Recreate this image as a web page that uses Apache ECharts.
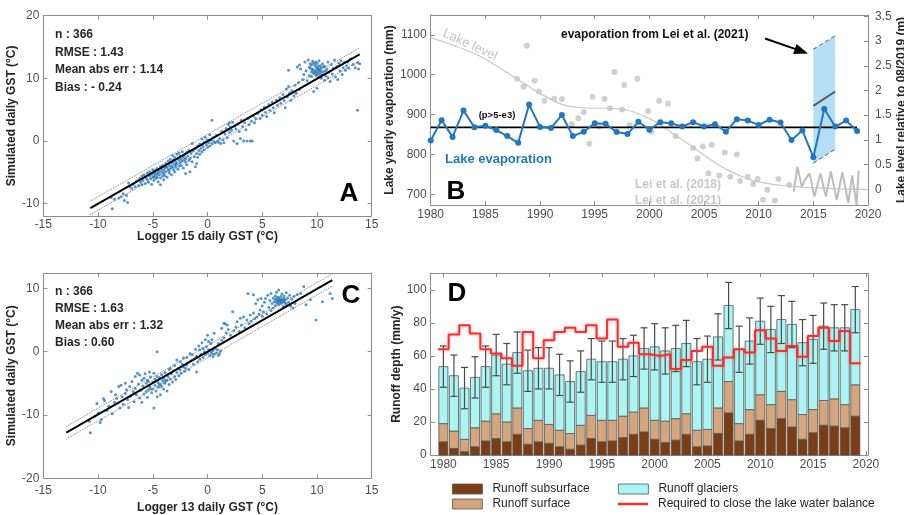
<!DOCTYPE html>
<html><head><meta charset="utf-8">
<script src="https://cdn.jsdelivr.net/npm/echarts@6/dist/echarts.min.js"></script>
<style>html,body{margin:0;padding:0;background:#fff}#c{width:904px;height:515px}</style>
</head><body><div id="c"></div>
<script>
// ================= DATA =================
// Panel A : Logger 15 vs simulated daily GST (°C)
const scatterA = [
[-8.7,-10.8],[-8.8,-9.0],[-8.5,-9.3],[-8.1,-9.1],[-7.9,-8.9],[-7.6,-9.5],[-7.4,-8.7],[-7.7,-8.4],[-7.3,-9.8],[-7.2,-6.7],[-7.1,-7.3],[-6.9,-7.6],[-6.8,-6.9],[-6.6,-7.3],[-6.5,-6.4],[-6.3,-7.1],[-6.2,-6.0],[-6.1,-6.6],[-6.0,-7.0],[-6.0,-5.6],
[-5.9,-6.3],[-5.8,-5.4],[-5.7,-6.8],[-5.6,-5.9],[-5.5,-6.2],[-5.5,-5.1],[-5.4,-6.6],[-5.3,-5.6],[-5.3,-4.9],[-5.2,-6.0],[-5.1,-5.3],[-5.1,-6.9],[-5.0,-5.8],[-5.0,-4.6],[-4.9,-5.1],
[-4.9,-6.3],[-4.8,-5.5],[-4.8,-4.7],[-4.7,-6.0],[-4.7,-5.2],[-4.6,-4.4],[-4.6,-5.8],[-4.5,-5.0],[-4.5,-6.5],[-4.4,-4.8],[-4.4,-5.4],[-4.3,-4.1],[-4.3,-5.9],[-4.3,-7.0],[-4.2,-5.0],[-4.2,-4.5],[-4.1,-5.6],[-4.1,-3.9],[-4.0,-4.7],[-4.0,-6.2],[-4.0,-5.2],
[-3.9,-4.3],[-3.9,-5.5],[-3.8,-3.6],[-3.8,-4.9],[-3.7,-4.2],[-3.7,-5.8],[-3.6,-3.2],[-3.6,-4.6],[-3.5,-5.1],[-3.5,-3.9],[-3.4,-4.4],[-3.4,-2.9],[-3.3,-4.0],[-3.3,-5.4],[-3.2,-3.5],[-3.2,-2.3],[-3.1,-4.6],[-3.1,-3.0],[-3.0,-3.8],[-3.0,-2.6],[-3.0,-4.9],
[-2.9,-3.3],[-2.9,-4.2],[-2.8,-2.1],[-2.8,-3.6],[-2.7,-2.8],[-2.7,-4.5],[-2.6,-3.1],[-2.6,-1.9],[-2.5,-3.5],[-2.5,-2.4],[-2.4,-3.9],[-2.4,-2.9],[-2.3,-3.2],[-2.3,-1.7],[-2.2,-2.6],[-2.2,-4.3],[-2.1,-3.0],[-2.1,-2.2],[-2.0,-3.4],[-2.0,-5.2],[-2.0,-2.7],
[-3.8,-4.1],[-3.5,-4.7],[-3.2,-4.2],[-2.9,-3.7],[-4.6,-5.3],[-4.9,-5.7],[-3.4,-3.4],[-2.6,-4.0],
[-1.9,-1.8],[-1.9,-3.8],[-1.8,-2.4],[-1.7,-3.1],[-1.7,-1.5],[-1.6,-4.9],[-1.6,-2.8],[-1.5,-2.0],[-1.4,-3.3],[-1.4,-0.4],[-1.3,-1.6],[-1.2,-2.5],[-1.1,-4.1],[-1.1,-1.2],[-1.0,-3.6],[-1.0,-2.0],
[-0.9,-0.8],[-0.9,-2.6],[-0.8,-1.5],[-0.7,-0.5],[-0.7,-2.1],[-0.6,-1.2],[-0.5,0.3],[-0.5,-1.7],[-0.4,-0.9],[-0.3,-0.2],[-0.3,-1.4],[-0.2,0.6],[-0.1,-0.6],[0.0,-1.0],[0.0,0.2],[0.1,-0.3],[0.2,1.0],[0.2,-0.8],[0.3,0.1],[0.4,3.3],[0.4,-0.4],[0.5,0.5],[0.6,-0.1],[0.7,-0.3],[0.8,0.9],[0.9,0.0],[1.0,-0.2],
[1.1,0.4],[1.2,-0.4],[1.3,1.5],[1.4,0.2],[1.5,-0.3],[1.6,1.1],[1.7,2.0],[1.8,0.5],[1.9,2.6],[2.0,1.4],[2.0,2.9],[2.1,2.2],[2.2,1.7],[2.3,3.0],[2.4,0.0],[2.5,2.4],[2.6,1.9],[2.7,-0.4],[2.8,2.7],[2.9,1.5],[3.0,0.4],[3.1,3.3],[3.2,2.3],[3.3,0.0],[3.4,2.9],[3.5,1.8],[3.6,0.0],[3.7,3.6],[3.8,2.6],[3.9,0.0],[4.0,3.2],[4.1,0.0],[4.2,4.0],[4.3,2.9],[4.4,3.6],
[4.6,4.4],[4.8,3.6],[4.9,5.0],[5.0,4.1],[5.2,5.4],[5.3,4.6],[5.4,3.9],[5.6,5.8],[5.7,4.9],[5.9,6.2],[6.0,5.3],[6.1,4.5],[6.3,6.5],[6.4,5.7],[6.6,6.9],[6.7,6.0],[6.9,7.4],[7.0,6.4],[7.1,5.3],[7.2,8.3],[7.3,7.0],[7.4,8.7],[7.5,7.6],[7.6,6.5],[7.7,8.0],[7.9,7.2],[8.0,8.9],[8.1,7.6],[8.3,9.3],[8.4,8.2],
[7.4,11.3],[8.2,11.8],[8.4,12.1],[8.5,11.5],[8.7,9.8],[8.8,10.6],[8.9,12.6],[9.0,11.2],[9.1,9.6],[9.2,12.9],[9.3,10.4],[9.3,11.8],[9.4,12.3],[9.5,11.0],[9.5,10.3],[9.6,12.7],[9.6,11.5],[9.7,10.8],[9.7,7.9],[9.8,12.1],[9.8,11.2],[9.9,10.5],[9.9,11.8],[10.0,12.4],[10.0,11.0],[10.0,8.4],[10.1,10.2],[10.1,11.6],[10.2,12.8],[10.2,10.8],[10.3,11.3],[10.3,12.0],[10.4,10.0],[10.4,11.7],[10.5,10.6],[10.5,12.3],[10.6,11.1],[10.7,9.7],[10.7,11.9],[10.8,10.4],[10.9,11.5],[11.0,12.6],[11.0,10.1],[11.1,11.0],[11.2,9.5],[11.3,12.2],[11.4,10.7],[11.5,11.6],[11.6,12.9],[11.7,10.2],[11.8,11.9],[11.9,9.8],[12.0,12.4],[12.1,11.2],[12.2,12.8],[12.3,10.6],[12.4,11.7],[12.5,12.5],[12.6,11.3],[12.7,12.0],[12.8,12.6],[12.9,11.6],[13.1,13.1],[13.3,12.2],[13.5,11.7],[13.7,12.5],[13.8,11.5],[13.7,4.9],[13.9,12.3],
[9.4,11.6],[9.6,11.3],[9.8,10.9],[10.0,11.4],[10.2,11.5],[10.4,11.0],[10.1,12.0],[9.9,12.6],[10.3,10.5],[10.6,11.9],[9.5,12.1],[10.8,11.2],[9.7,12.4],[10.2,11.2],[10.0,10.7]
];
const fitA   = [[-10.7,-10.7],[13.9,13.8]];
const upperA = [[-10.7,-9.6],[13.9,14.85]];
const lowerA = [[-10.7,-11.75],[13.9,12.75]];
const statsA = ['n : 366','RMSE : 1.43','Mean abs err : 1.14','Bias : - 0.24'];

// Panel C : Logger 13 vs simulated daily GST (°C)
const scatterC = [
[-10.7,-12.8],[-10.8,-11.0],[-10.3,-10.2],[-10.0,-9.7],[-9.8,-11.2],[-9.7,-10.7],[-10.1,-8.2],[-9.5,-7.4],[-9.4,-7.7],[-9.2,-9.3],[-9.0,-8.6],[-8.8,-6.3],[-8.7,-9.8],[-8.5,-8.0],[-8.4,-6.8],[-8.3,-7.4],[-8.1,-5.5],[-8.0,-8.9],
[-7.9,-5.3],[-7.8,-7.1],[-7.7,-8.3],[-7.5,-5.0],[-7.5,-6.6],[-7.4,-6.0],[-7.3,-7.6],[-7.2,-8.8],[-7.1,-5.5],[-7.0,-7.0],[-6.9,-4.7],[-6.8,-6.3],[-6.7,-7.9],[-6.6,-3.9],[-6.6,-5.8],[-6.5,-6.8],[-6.4,-3.4],[-6.3,-5.1],[-6.2,-3.7],[-6.2,-7.3],[-6.1,-6.1],[-6.0,-4.5],[-6.0,-8.0],
[-5.9,-5.4],[-5.8,-4.2],[-5.8,-6.7],[-5.7,-3.5],[-5.6,-5.0],[-5.5,-4.5],[-5.5,-7.2],[-5.4,-6.0],[-5.3,-3.2],[-5.3,-5.5],[-5.2,-4.0],[-5.1,-6.5],[-5.0,-4.8],[-5.0,-5.9],[-4.9,-3.4],[-4.9,-8.9],[-4.8,-4.3],[-4.8,-5.3],[-4.7,-6.2],[-4.6,-7.1],[-4.6,-3.9],[-4.6,0.0],[-4.5,-4.9],[-4.5,-5.6],[-4.4,-4.1],[-4.3,-6.8],[-4.3,-5.1],[-4.2,-5.5],[-4.2,-3.6],[-4.1,-4.6],[-4.0,-5.9],[-4.0,-4.2],
[-5.6,-6.3],[-5.2,-5.8],[-4.7,-4.6],[-4.4,-5.3],[-3.9,-4.8],[-5.4,-4.7],
[-3.9,-5.0],[-3.9,-3.3],[-3.8,-4.5],[-3.7,-4.5],[-3.7,-6.2],[-3.6,-3.9],[-3.5,-2.8],[-3.5,-5.2],[-3.4,-2.6],[-3.4,-4.3],[-3.3,-3.5],[-3.2,-4.8],[-3.1,-3.0],[-3.0,-3.9],[-3.0,-2.2],[-2.9,-4.4],[-2.8,-1.3],[-2.8,-3.3],[-2.7,-2.7],[-2.6,-3.8],[-2.5,-1.6],[-2.5,-2.9],[-2.4,-3.4],[-2.3,-2.0],[-2.2,-2.4],[-2.2,-1.0],[-2.1,-3.1],[-2.0,-2.6],
[-1.9,-2.1],[-1.9,-0.9],[-1.8,-1.7],[-1.7,-2.8],[-1.6,-0.3],[-1.5,-1.4],[-1.4,-0.5],[-1.3,-2.0],[-1.2,-1.1],[-1.1,0.4],[-1.0,-3.2],[-1.0,-0.7],[-0.9,-1.6],[-0.8,0.9],[-0.7,0.3],[-0.7,-1.2],[-0.6,-0.4],[-0.5,1.4],[-0.4,0.5],[-0.4,-0.9],[-0.3,0.0],[-0.2,1.9],[-0.2,-0.5],[-0.1,0.8],[0.0,-0.2],[0.0,2.6],
[0.1,0.3],[0.1,1.6],[0.2,-0.6],[0.3,0.0],[0.3,1.3],[0.4,-0.3],[0.4,1.9],[0.5,0.2],[0.5,-0.8],[0.6,2.9],[0.6,-0.4],[0.7,0.5],[0.8,-0.2],[0.9,0.3],[1.0,-0.6],[1.0,1.3],[1.1,-0.3],[1.2,0.1],[1.3,1.8],[1.3,3.7],[1.5,4.5],[1.5,2.2],[1.6,4.4],[1.7,3.0],[1.8,4.2],[1.9,3.5],
[2.1,2.6],[2.3,6.3],[2.4,3.3],[2.6,3.9],[2.7,4.75],[2.9,3.2],[3.0,5.3],[3.1,4.2],[3.3,5.5],[3.4,3.8],[3.6,5.0],[3.7,9.2],[3.8,4.4],[3.9,5.8],[4.0,4.8],[4.2,6.1],[4.2,9.0],[4.3,5.2],[4.4,7.6],[4.5,5.5],[4.6,8.2],[4.7,5.9],[4.8,6.6],[4.9,8.4],[5.0,5.6],[5.0,7.2],
[5.1,6.3],[5.2,7.8],[5.3,8.4],[5.4,6.0],[5.5,8.9],[5.6,7.0],[5.7,8.1],[5.8,6.5],[5.8,9.2],[5.9,7.6],[6.0,8.5],[6.0,6.9],[6.1,7.9],[6.2,8.8],[6.2,7.3],[6.3,8.2],[6.3,9.4],[6.4,7.7],[6.4,8.6],[6.5,9.75],[6.5,8.0],[6.5,7.4],[6.6,8.3],[6.6,7.9],[6.7,8.7],[6.7,7.6],[6.8,8.1],[6.8,9.1],[6.9,7.2],[6.9,8.4],[7.0,7.9],[7.0,8.8],[7.1,8.2],[7.2,7.5],[7.2,9.3],[7.3,8.5],[7.4,7.8],[7.5,8.9],[7.6,7.2],[7.7,8.3],[7.8,6.9],[7.9,8.7],[8.0,7.6],[8.2,9.0],[8.5,9.2],[8.8,10.3],[9.0,7.4],[9.4,8.2],[9.9,5.0],[10.5,7.9],[11.2,9.2],[11.4,8.4],
[6.6,8.0],[6.7,8.2],[6.8,7.8],[6.4,8.1],[6.9,8.0],[7.0,8.3],[6.5,8.5],[6.3,7.8],[7.1,7.7],[6.2,8.3]
];
const fitC   = [[-12.9,-12.8],[11.4,11.3]];
const upperC = [[-12.9,-11.8],[11.4,12.3]];
const lowerC = [[-12.9,-13.8],[11.4,10.35]];
const statsC = ['n : 366','RMSE : 1.63','Mean abs err : 1.32','Bias : 0.60'];

// Panel B : lake evaporation (mm) and lake level (m)
const evapYears = [1980,1981,1982,1983,1984,1985,1986,1987,1988,1989,1990,1991,1992,1993,1994,1995,1996,1997,1998,1999,2000,2001,2002,2003,2004,2005,2006,2007,2008,2009,2010,2011,2012,2013,2014,2015,2016,2017,2018,2019];
const evapValues = [835,886,844,910,868,872,861,846,829,925,869,866,899,846,857,878,877,856,851,882,862,881,878,870,881,870,876,857,888,885,874,887,880,836,860,793,914,870,885,859];
const evapMeanYears = [1980,2019];
const evapMean = 868;
const leiPoints = [[1987.9,990],[1988.5,970],[1988.8,1073],[1989.5,985],[1989.9,958],[1990.4,935],[1991.3,940],[1992.0,939],[1992.9,876],[1993.5,891],[1994.0,906],[1994.5,827],[1994.8,945],[1995.4,870],[1995.9,939],[1996.4,916],[1996.8,1007],[1997.5,913],[1997.7,974],[1998.2,874],[1998.9,990],[1999.9,909],[2000.2,857],[2000.9,935],[2001.7,927],[2002.4,846],[2004.0,816],[2004.4,790],[2004.9,820],[2005.4,753],[2005.7,824],[2006.4,747],[2006.9,805],[2007.4,744],[2008.0,800],[2008.3,733],[2009.0,744],[2009.5,726],[2009.9,738],[2010.4,686],[2010.8,711],[2011.5,684],[2011.8,738],[2012.8,723]];
const levelYears = [1980,1981,1982,1983,1984,1985,1986,1987,1988,1989,1990,1991,1992,1993,1994,1995,1996,1997,1998,1999,2000,2001,2002,2003,2004,2005,2006,2007,2008,2009,2010,2011,2012,2013,2014,2015,2016,2017,2018,2019,2020];
const levelValues = [3.07,3.00,2.92,2.84,2.75,2.64,2.50,2.36,2.22,2.08,1.94,1.82,1.72,1.67,1.65,1.64,1.64,1.63,1.60,1.53,1.43,1.30,1.15,1.00,0.85,0.69,0.54,0.41,0.30,0.21,0.15,0.11,0.08,0.06,0.04,0.03,0.02,0.01,0.0,0.0,-0.01];
const levelSeasonal = [[2013.2,-0.05],[2013.55,0.45],[2013.95,0.05],[2014.2,0.18],[2014.65,0.32],[2015.1,-0.15],[2015.65,0.32],[2016.15,-0.15],[2016.6,0.36],[2017.15,-0.22],[2017.65,0.34],[2018.2,-0.28],[2018.55,0.28],[2018.95,-0.32],[2019.15,0.38]];
const leiBandYears = [2015,2017];
const leiBandLow  = [778,813];
const leiBandHigh = [1064,1098];
const leiBandMid  = [922,958];

// Panel D : runoff depth (mm/y)
const runoffYears = [1980,1981,1982,1983,1984,1985,1986,1987,1988,1989,1990,1991,1992,1993,1994,1995,1996,1997,1998,1999,2000,2001,2002,2003,2004,2005,2006,2007,2008,2009,2010,2011,2012,2013,2014,2015,2016,2017,2018,2019];
const runoffSubsurface = [8,4,2,5,8.5,10,8,12.5,6.5,8,7,5,3.5,6,10,8,8.5,10.5,12.5,14,9.5,7.5,9,12.5,5,5.5,13,25.5,8.5,12.5,21,16,22,17,9.5,13.5,18,17.5,16.5,23.5];
const runoffSurface    = [11,10.5,7.5,11.5,12,15,12,16,9.5,13,11.5,10,9.5,12,14,13,12.5,13,13.5,14.5,11.5,13,13,12.5,10,10,15.5,19,10.5,15,15.5,14.5,16.5,16.5,15,14,15,16.5,14,19];
const runoffGlaciers   = [34.5,33.5,31,30.5,33,35.5,35,33.5,35,31.5,34,33.5,31.5,32.5,34,35.5,35.5,34.5,34,36,44.5,42.5,42.5,42.5,41.5,42.5,43,46,45,41.5,44.5,45.5,43.5,45.5,43.5,42.5,45,43,46.5,45.5];
const runoffError      = [12.5,12.5,12.5,12.5,12.5,12.5,12.5,12.5,12.5,12.5,12.5,12.5,12.5,12.5,12.5,12.5,12.5,12.5,12.5,12.5,14,14,14,14,14,14,14,14,14,14,14,14,14.5,14,14,14.5,14,14,14,14];
const requiredRunoff   = [64,73,78.5,73.5,64,61.5,58.5,54,74.5,58.5,69.5,74.5,77,74.5,78.5,70.5,82,65.5,68,61,60,61,52,57.5,63,65.5,54,59,64,62,75.5,70.5,63,66,59.5,72,77,69,75,55.5];

// ================= STYLE =================
const FONT = '"Liberation Sans", Arial, Helvetica, sans-serif';
const AXC = '#8c8c8c', LBL = '#4d4d4d', TXT = '#262626';
const DOT = '#2a7cc0', BLUE = '#1f78c0';
const COL_SUB = '#7c3c14', COL_SURF = '#d3a67d', COL_GLAC = '#aaf4f4', EDGE = '#555';

function axis(o) {
  const a = {
    type: 'value', gridIndex: o.grid, position: o.pos, min: o.min, max: o.max,
    axisLine: {show: true, onZero: false, lineStyle: {color: AXC, width: 1}},
    axisTick: {show: true, inside: true, length: 4, lineStyle: {color: AXC, width: 1}},
    splitLine: {show: false},
    axisLabel: {show: !!o.labels, color: LBL, fontSize: 12, fontFamily: FONT, margin: o.margin == null ? 4 : o.margin,
      showMinLabel: o.showMin !== false, showMaxLabel: o.showMax !== false,
      formatter: function (v) { return String(v); }}
  };
  if (o.interval != null) a.interval = o.interval;
  if (o.step != null) { a.minInterval = o.step; a.maxInterval = o.step; a.splitNumber = o.split || 5; }
  if (o.name) {
    a.name = o.name; a.nameLocation = 'middle'; a.nameGap = o.gap; a.nameRotate = o.rot;
    a.nameTextStyle = {fontWeight: 'bold', fontSize: 12, color: TXT, fontFamily: FONT};
  }
  return a;
}

const xAxes = [
  axis({grid:0,pos:'bottom',min:-15,max:15,interval:5,labels:true,margin:2,name:'Logger 15 daily GST (°C)',gap:14}),
  axis({grid:0,pos:'top',min:-15,max:15,interval:5}),
  axis({grid:1,pos:'bottom',min:1980,max:2020,interval:5,labels:true,margin:4}),
  axis({grid:1,pos:'top',min:1980,max:2020,interval:5}),
  axis({grid:2,pos:'bottom',min:-15,max:15,interval:5,labels:true,margin:6,name:'Logger 13 daily GST (°C)',gap:23}),
  axis({grid:2,pos:'top',min:-15,max:15,interval:5}),
  axis({grid:3,pos:'bottom',min:1978.8,max:2020.2,step:5,split:8,labels:true,margin:4,showMin:false,showMax:false}),
  axis({grid:3,pos:'top',min:1978.8,max:2020.2,step:5,split:8})
];
const yAxes = [
  axis({grid:0,pos:'left',min:-12,max:20,step:10,split:3,labels:true,showMin:false,name:'Simulated daily GST (°C)',gap:20,rot:90}),
  axis({grid:0,pos:'right',min:-12,max:20,step:10,split:3}),
  axis({grid:1,pos:'left',min:673,max:1150,step:100,split:5,labels:true,showMin:false,showMax:false,name:'Lake yearly evaporation (mm)',gap:30,rot:90}),
  axis({grid:1,pos:'right',min:-0.32,max:3.53,step:0.5,split:7,labels:true,margin:7,showMin:false,showMax:false,name:'Lake level relative to 08/2019 (m)',gap:22,rot:90}),
  axis({grid:2,pos:'left',min:-20,max:12.4,interval:10,labels:true,showMax:false,name:'Simulated daily GST (°C)',gap:20,rot:90}),
  axis({grid:2,pos:'right',min:-20,max:12.4,interval:10}),
  axis({grid:3,pos:'left',min:0,max:110,interval:20,labels:true,showMax:false,name:'Runoff depth (mm/y)',gap:26,rot:90}),
  axis({grid:3,pos:'right',min:0,max:110,interval:20})
];

function lineS(xi, yi, data, color, width, type, z, extra) {
  return Object.assign({type:'line', xAxisIndex:xi, yAxisIndex:yi, data:data, symbol:'none', silent:true,
    lineStyle:{color:color, width:width, type:type}, itemStyle:{color:color}, z:z}, extra || {});
}

const series = [];
// ---- A ----
series.push({type:'scatter', xAxisIndex:0, yAxisIndex:0, data:scatterA, symbolSize:3, itemStyle:{color:DOT}, silent:true, z:2});
series.push(lineS(0,0,upperA,'#7a7a7a',1,'dotted',3));
series.push(lineS(0,0,lowerA,'#7a7a7a',1,'dotted',3));
series.push(lineS(0,0,fitA,'#000',2,'solid',4));
// ---- C ----
series.push({type:'scatter', xAxisIndex:4, yAxisIndex:4, data:scatterC, symbolSize:3, itemStyle:{color:DOT}, silent:true, z:2});
series.push(lineS(4,4,upperC,'#7a7a7a',1,'dotted',3));
series.push(lineS(4,4,lowerC,'#7a7a7a',1,'dotted',3));
series.push(lineS(4,4,fitC,'#000',2,'solid',4));
// ---- B ----
series.push({type:'custom', xAxisIndex:2, yAxisIndex:2, z:1, silent:true,
  data: leiBandYears.map((y,i)=>[y, leiBandLow[i], leiBandHigh[i]]),
  encode:{x:0, y:[1,2]},
  renderItem: function(params, api){
    if (params.dataIndexInside !== 0) return;
    const n = params.dataInsideLength, lo = [], hi = [];
    for (let i=0;i<n;i++){ lo.push(api.coord([api.value(0,i), api.value(1,i)])); hi.push(api.coord([api.value(0,i), api.value(2,i)])); }
    return {type:'group', children:[
      {type:'polygon', shape:{points: lo.concat(hi.slice().reverse())}, style:{fill:'#b3def4'}},
      {type:'polyline', shape:{points: hi}, style:{stroke:'#5a5a5a', lineWidth:1, lineDash:[4,3], fill:null}},
      {type:'polyline', shape:{points: lo}, style:{stroke:'#5a5a5a', lineWidth:1, lineDash:[4,3], fill:null}}
    ]};
  }});
series.push(lineS(2,3,levelYears.map((y,i)=>[y, levelValues[i]]),'#c8c8c8',1.2,'solid',1,{smooth:true}));
series.push(lineS(2,3,levelSeasonal,'#bdbdbd',2,'solid',2));
series.push({type:'scatter', xAxisIndex:2, yAxisIndex:2, data:leiPoints, symbolSize:6, itemStyle:{color:'#c4c4c4'}, silent:true, z:2});
series.push(lineS(2,2,evapMeanYears.map(y=>[y, evapMean]),'#000',1.8,'solid',3));
series.push(lineS(2,2,leiBandYears.map((y,i)=>[y, leiBandMid[i]]),'#5a5a5a',2,'solid',3));
series.push({type:'line', xAxisIndex:2, yAxisIndex:2, data: evapYears.map((y,i)=>[y, evapValues[i]]), symbol:'circle', symbolSize:6,
  lineStyle:{color:BLUE, width:2}, itemStyle:{color:BLUE}, silent:true, z:4});
// ---- D : stacked bars drawn as custom rects ----
const zeros = runoffYears.map(()=>0);
const baseSurface = runoffYears.map((y,i)=>runoffSubsurface[i]);
const baseGlaciers = runoffYears.map((y,i)=>runoffSubsurface[i]+runoffSurface[i]);
function barLayer(name, base, vals, color) {
  return {type:'custom', name:name, xAxisIndex:6, yAxisIndex:6, z:2, silent:true,
    itemStyle:{color:color, borderColor:EDGE, borderWidth:0.8},
    data: runoffYears.map((y,i)=>[y, base[i], base[i]+vals[i]]),
    encode:{x:0, y:[1,2]},
    renderItem: function(params, api){
      const p0 = api.coord([api.value(0), api.value(1)]);
      const p1 = api.coord([api.value(0), api.value(2)]);
      const w = api.size([1,0])[0]*0.86;
      return {type:'rect', shape:{x:p0[0]-w/2, y:p1[1], width:w, height:p0[1]-p1[1]},
        style:{fill:color, stroke:EDGE, lineWidth:0.8}};
    }};
}
series.push(barLayer('Runoff subsurface', zeros, runoffSubsurface, COL_SUB));
series.push(barLayer('Runoff surface', baseSurface, runoffSurface, COL_SURF));
series.push(barLayer('Runoff glaciers', baseGlaciers, runoffGlaciers, COL_GLAC));
series.push({type:'custom', xAxisIndex:6, yAxisIndex:6, z:5, silent:true,
  data: runoffYears.map((y,i)=>{ const t = runoffSubsurface[i]+runoffSurface[i]+runoffGlaciers[i]; return [y, t-runoffError[i], t+runoffError[i]]; }),
  encode:{x:0, y:[1,2]},
  renderItem: function(params, api){
    const lo = api.coord([api.value(0), api.value(1)]);
    const hi = api.coord([api.value(0), api.value(2)]);
    const w = 3.5, st = {stroke:'#4a4a4a', lineWidth:1.2};
    return {type:'group', children:[
      {type:'line', shape:{x1:lo[0],y1:lo[1],x2:hi[0],y2:hi[1]}, style:st},
      {type:'line', shape:{x1:hi[0]-w,y1:hi[1],x2:hi[0]+w,y2:hi[1]}, style:st},
      {type:'line', shape:{x1:lo[0]-w,y1:lo[1],x2:lo[0]+w,y2:lo[1]}, style:st}
    ]};
  }});
const last = runoffYears.length - 1;
const stairs = runoffYears.map((y,i)=>[y-0.5, requiredRunoff[i]]).concat([[runoffYears[last]+0.5, requiredRunoff[last]]]);
series.push({type:'line', name:'Required to close the lake water balance', xAxisIndex:6, yAxisIndex:6, data:stairs, step:'end',
  symbol:'none', silent:true, z:6, lineStyle:{color:'#ff2b2b', width:2, shadowColor:'rgba(255,60,60,0.45)', shadowBlur:3}, itemStyle:{color:'#ff2b2b'}});

// ---- legends ----
function leg(name, left, top, h, withBorder) {
  return {data:[name], left:left, top:top, padding:0, itemGap:0, itemWidth:30, itemHeight:h, icon:'rect', selectedMode:false,
    itemStyle: withBorder ? {borderColor:EDGE, borderWidth:0.8} : {borderWidth:0},
    textStyle:{fontSize:12, color:TXT, fontFamily:FONT, padding:[0,0,0,5]}};
}

// ---- annotation texts ----
function txt(text, x, y, size, weight, color, align, extra) {
  return Object.assign({type:'text', x:x, y:y, silent:true, z:100,
    style:{text:text, fontSize:size, fontWeight:weight, fontFamily:FONT, fill:color,
      textAlign:align||'left', align:align||'left', textVerticalAlign:'middle', verticalAlign:'middle'}}, extra||{});
}
const gfx = [];
const statY = [35, 52.5, 70, 87.5];
statsA.forEach((s,i)=>gfx.push(txt(s, 55, statY[i], 12, 'bold', TXT)));
const statYC = [292, 309, 326, 343];
statsC.forEach((s,i)=>gfx.push(txt(s, 55, statYC[i], 12, 'bold', TXT)));
gfx.push(txt('A', 349, 194, 26, 'bold', '#000', 'center'));
gfx.push(txt('B', 456, 192, 26, 'bold', '#000', 'center'));
gfx.push(txt('C', 351, 296, 26, 'bold', '#000', 'center'));
gfx.push(txt('D', 457, 294, 26, 'bold', '#000', 'center'));
gfx.push(txt('(p>5-e3)', 497, 115, 9.5, 'bold', '#111', 'center'));
gfx.push(txt('Lake evaporation', 445, 159, 13, 'bold', BLUE));
gfx.push(txt('Lake level', 470, 45, 13, 'normal', '#c4c4c4', 'center', {rotation:-0.43}));
gfx.push(txt('evaporation from Lei et al. (2021)', 561, 35, 12, 'bold', '#111'));
gfx.push(txt('Lei et al. (2018)', 635, 185, 12, 'bold', '#c8c8c8'));
gfx.push(txt('Lei et al. (2021)', 635, 200.5, 12, 'bold', '#c8c8c8'));
gfx.push({type:'line', silent:true, z:100, shape:{x1:765,y1:38.5,x2:797,y2:49.6}, style:{stroke:'#000', lineWidth:2}});
gfx.push({type:'polygon', silent:true, z:100, shape:{points:[[808,53.5],[793.1,54.0],[796.6,44.0]]}, style:{fill:'#000'}});

const chart = echarts.init(document.getElementById('c'), null, {renderer:'canvas'});
chart.setOption({
  animation:false,
  backgroundColor:'#fff',
  textStyle:{fontFamily:FONT},
  grid:[
    {left:43.3, top:15.6, width:328.4, height:200.6},
    {left:430.7, top:15, width:437.3, height:190},
    {left:43.3, top:273.2, width:328.4, height:205.1},
    {left:430.7, top:273.3, width:437.3, height:181.7}
  ].map(g=>Object.assign({show:false, containLabel:false, outerBoundsMode:'none'}, g)),
  xAxis:xAxes, yAxis:yAxes,
  legend:[
    leg('Runoff subsurface', 452, 483, 10, true),
    leg('Runoff glaciers', 618, 483, 10, true),
    leg('Runoff surface', 452, 498, 10, true),
    leg('Required to close the lake water balance', 618, 498, 2.5, false)
  ],
  series:series,
  graphic:{elements:gfx}
});
</script></body></html>
